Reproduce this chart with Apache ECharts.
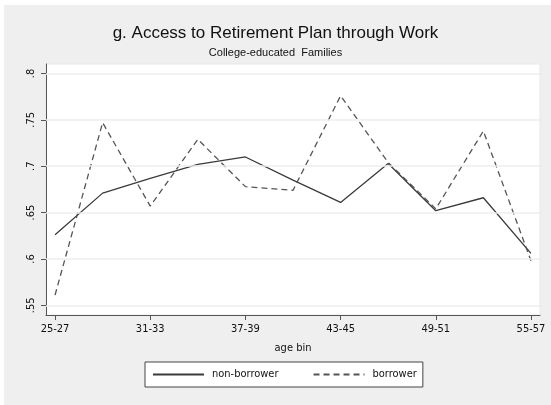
<!DOCTYPE html>
<html>
<head>
<meta charset="utf-8">
<script src="https://cdn.jsdelivr.net/npm/echarts@6/dist/echarts.min.js"></script>
<style>
  html, body { margin: 0; padding: 0; background: #ffffff; }
  #chart { width: 551px; height: 405px; }
</style>
</head>
<body>
<div id="chart"></div>
<script>
// Age bins along the x axis (3-year bins)
const ageBins = ['25-27', '28-30', '31-33', '34-36', '37-39', '40-42',
                 '43-45', '46-48', '49-51', '52-54', '55-57'];
// Labelled bins on the x axis (every other bin)
const xTickIdx = [0, 2, 4, 6, 8, 10];
// Share of families with access to a retirement plan through work
const nonBorrower = [0.626, 0.671, 0.687, 0.702, 0.710, 0.685,
                     0.661, 0.703, 0.652, 0.666, 0.606];
const borrower = [0.561, 0.747, 0.657, 0.729, 0.678, 0.674,
                  0.776, 0.704, 0.654, 0.738, 0.598];
// Y axis tick values and grid lines
const yTicks = [0.55, 0.6, 0.65, 0.7, 0.75, 0.8];

const FONT = "'Liberation Sans Narrow', 'DejaVu Sans Condensed', 'Liberation Sans', Arial, sans-serif";
const FONT_WIDE = "'Liberation Sans', Arial, sans-serif";

const fmtY = v => {
  const s = (Math.round(v * 100) / 100).toString();
  return s.replace(/^0/, '');
};

const chart = echarts.init(document.getElementById('chart'), null, { renderer: 'canvas' });

chart.setOption({
  backgroundColor: '#ffffff',
  animation: false,
  graphic: [
    { type: 'rect', z: -10, silent: true,
      shape: { x: 4, y: 5, width: 547, height: 400 },
      style: { fill: '#efefef' } }
  ],
  title: {
    text: 'g. Access to Retirement Plan through Work',
    subtext: 'College-educated  Families',
    left: 'center',
    top: 20,
    itemGap: 5,
    textStyle: { fontFamily: FONT_WIDE, fontSize: 17, fontWeight: 'normal', color: '#111' },
    subtextStyle: { fontFamily: FONT_WIDE, fontSize: 11, color: '#111' }
  },
  grid: {
    left: 46, right: 11, top: 64, bottom: 90,
    show: true,
    backgroundColor: '#ffffff',
    borderColor: '#e8e8e8',
    borderWidth: 1
  },
  xAxis: {
    type: 'value',
    min: -0.19,
    max: 10.19,
    name: 'age bin',
    nameLocation: 'middle',
    nameGap: 28,
    nameTextStyle: { fontFamily: FONT, fontSize: 11, color: '#111' },
    axisLine: { show: true, onZero: false, lineStyle: { color: '#555', width: 1 } },
    axisTick: { show: true, length: 5, customValues: xTickIdx, lineStyle: { color: '#555' } },
    axisLabel: {
      customValues: xTickIdx,
      formatter: v => ageBins[Math.round(v)],
      fontFamily: FONT, fontSize: 11, color: '#111', margin: 9
    },
    splitLine: { show: false }
  },
  yAxis: {
    type: 'value',
    min: 0.5395,
    max: 0.8103,
    axisLine: { show: true, onZero: false, lineStyle: { color: '#555', width: 1 } },
    axisTick: { show: true, length: 5, customValues: yTicks, lineStyle: { color: '#555' } },
    axisLabel: {
      customValues: yTicks,
      formatter: fmtY,
      rotate: 90,
      fontFamily: FONT, fontSize: 11, color: '#111', margin: 9
    },
    splitLine: { show: false }
  },
  legend: {
    left: 145,
    top: 362,
    padding: [7, 6, 7, 7],
    backgroundColor: '#ffffff',
    borderColor: '#444',
    borderWidth: 1,
    borderRadius: 0,
    itemWidth: 51,
    itemHeight: 12,
    itemGap: 34,
    itemStyle: { opacity: 0 },
    textStyle: { fontFamily: FONT, fontSize: 11, color: '#111', padding: [0, 0, 0, 3] },
    data: ['non-borrower', 'borrower']
  },
  series: [
    {
      name: 'non-borrower',
      type: 'line',
      symbol: 'none',
      data: nonBorrower.map((v, i) => [i, v]),
      lineStyle: { color: '#3a3a3a', width: 1.3, type: 'solid' },
      itemStyle: { color: '#3a3a3a' },
      z: 3,
      markLine: {
        silent: true,
        symbol: 'none',
        label: { show: false },
        lineStyle: { color: '#eeeeee', width: 1.5, type: 'solid' },
        data: yTicks.map(v => ({ yAxis: v }))
      }
    },
    {
      name: 'borrower',
      type: 'line',
      symbol: 'none',
      data: borrower.map((v, i) => [i, v]),
      lineStyle: { color: '#555555', width: 1.3, type: [6, 4] },
      itemStyle: { color: '#555555' },
      z: 3
    }
  ]
});
</script>
</body>
</html>
